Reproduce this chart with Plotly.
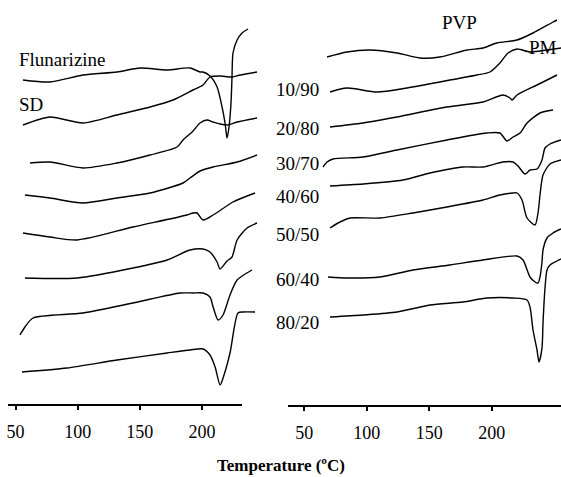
import plotly.graph_objects as go

W, H = 561, 477
FONT = "Liberation Serif"

# ---------------- Left panel (Flunarizine + solid dispersions) ----------------
flun_T = [56.0, 77.7, 104.3, 131.6, 150.1, 171.9, 190.3, 198.4, 200.8, 206.4, 212.1,
          216.1, 218.5, 220.1, 221.7, 223.3, 224.1, 224.9, 228.2, 232.2, 237.0]
flun_h = [325, 323, 330, 333, 337, 335, 337, 333, 333, 329, 318,
          298, 282, 267, 278, 302, 328, 352, 365, 372, 376]

sd1_T = [56.0, 77.7, 104.3, 131.6, 158.2, 176.7, 192.8, 200.8, 206.4, 214.5, 224.1, 230.6, 244.2]
sd1_h = [280, 288, 282, 290, 298, 305, 315, 320, 328, 329, 328, 330, 333]

sd2_T = [61.7, 77.7, 104.3, 131.6, 158.2, 179.9, 184.7, 192.8, 198.4, 204.0, 208.9, 214.5, 220.1, 228.2, 244.2]
sd2_h = [242, 243, 237, 242, 250, 258, 265, 274, 282, 285, 283, 281, 280, 283, 287]

sd3_T = [57.6, 77.7, 104.3, 131.6, 158.2, 184.7, 190.3, 198.4, 208.9, 228.2, 244.2]
sd3_h = [210, 207, 202, 207, 212, 222, 227, 234, 238, 243, 250]

sd4_T = [56.0, 77.7, 99.5, 144.5, 187.9, 192.8, 196.0, 200.8, 208.9, 224.9, 242.6]
sd4_h = [172, 168, 165, 178, 190, 192, 192, 185, 190, 203, 212]

sd5_T = [57.6, 99.5, 144.5, 171.9, 190.3, 200.8, 206.4, 212.1, 214.5, 220.1, 224.1, 228.2, 236.2, 244.2]
sd5_h = [127, 127, 137, 145, 155, 156, 153, 143, 136, 144, 148, 165, 177, 182]

sd6_T = [53.6, 57.6, 64.1, 104.3, 144.5, 182.3, 192.8, 200.8, 206.4, 208.9, 212.9, 216.9, 222.5, 228.2, 240.2]
sd6_h = [70, 78, 87, 92, 102, 112, 112, 112, 108, 98, 85, 90, 110, 125, 135]

sd7_T = [55.2, 91.4, 131.6, 171.9, 190.3, 200.8, 206.4, 210.5, 214.5, 216.9, 222.5, 228.9, 233.0, 242.6]
sd7_h = [33, 37, 45, 52, 55, 56, 50, 38, 20, 27, 52, 92, 93, 93]

# ---------------- Right panel (PVP + physical mixtures) ----------------
pvp_T = [68.2, 84.2, 102.6, 124.2, 142.6, 158.6, 180.2, 193.0, 204.2, 220.3, 233.1, 249.1, 252.3]
pvp_h = [348, 353, 355, 352, 347, 348, 355, 357, 362, 365, 372, 383, 385]

pm1090_T = [70.6, 84.2, 108.2, 132.2, 158.6, 166.6, 188.2, 198.6, 206.6, 213.1, 220.3, 230.7, 244.3, 255.5]
pm1090_h = [313, 317, 313, 317, 323, 325, 330, 333, 342, 352, 356, 353, 355, 357]

pm2080_T = [70.6, 97.0, 124.2, 164.2, 193.0, 209.0, 214.7, 216.3, 220.3, 236.3, 252.3]
pm2080_h = [278, 282, 288, 298, 303, 310, 307, 305, 310, 320, 330]

pm3070_T = [65.0, 68.2, 73.0, 97.0, 124.2, 164.2, 196.2, 206.6, 212.3, 217.1, 222.7, 228.3, 238.7, 249.1]
pm3070_h = [238, 243, 246, 248, 255, 265, 272, 272, 264, 268, 272, 282, 292, 295]

pm4060_T = [70.6, 97.0, 129.0, 150.6, 177.0, 193.0, 209.0, 217.1, 221.1, 226.7, 230.7, 236.3, 240.3, 242.7, 246.7, 255.5]
pm4060_h = [219, 221, 225, 232, 238, 238, 243, 243, 239, 231, 235, 236, 245, 257, 261, 265]

pm5050_T = [70.6, 78.6, 86.6, 110.6, 137.0, 164.2, 193.0, 206.6, 217.1, 220.3, 224.3, 228.3,
            234.7, 237.1, 238.7, 241.1, 246.7, 255.5]
pm5050_h = [177, 183, 187, 187, 192, 198, 205, 210, 212, 212, 205, 187,
            180, 192, 210, 230, 241, 245]

pm6040_T = [69.0, 84.2, 110.6, 137.0, 166.6, 193.0, 220.3, 225.1, 230.7, 234.7, 237.1, 238.7,
            240.3, 241.1, 244.3, 249.1, 255.5]
pm6040_h = [128, 127, 128, 135, 140, 145, 149, 145, 128, 123, 122, 128,
            143, 155, 167, 172, 176]

pm8020_T = [70.6, 97.0, 124.2, 150.6, 177.0, 196.2, 217.1, 228.3, 230.7, 233.1, 236.3, 237.9,
            240.3, 241.1, 242.7, 244.3, 246.7, 252.3, 255.5]
pm8020_h = [88, 90, 93, 100, 103, 107, 107, 105, 98, 75, 55, 43,
            57, 82, 117, 135, 140, 144, 146]

tick_vals = [50, 100, 150, 200]
ratio_labels = ["10/90", "20/80", "30/70", "40/60", "50/50", "60/40", "80/20"]

left_series = [(flun_T, flun_h), (sd1_T, sd1_h), (sd2_T, sd2_h), (sd3_T, sd3_h),
               (sd4_T, sd4_h), (sd5_T, sd5_h), (sd6_T, sd6_h), (sd7_T, sd7_h)]
right_series = [(pvp_T, pvp_h), (pm1090_T, pm1090_h), (pm2080_T, pm2080_h), (pm3070_T, pm3070_h),
                (pm4060_T, pm4060_h), (pm5050_T, pm5050_h), (pm6040_T, pm6040_h), (pm8020_T, pm8020_h)]

fig = go.Figure()
line = dict(color="black", width=1.4, shape="spline", smoothing=0.7)
for T, h in left_series:
    fig.add_trace(go.Scatter(x=T, y=h, mode="lines", line=line, xaxis="x", yaxis="y",
                             showlegend=False, hoverinfo="skip"))
for T, h in right_series:
    fig.add_trace(go.Scatter(x=T, y=h, mode="lines", line=line, xaxis="x2", yaxis="y",
                             showlegend=False, hoverinfo="skip"))


def px(x):
    return x / W


def py(y):
    return 1 - y / H


axis_common = dict(
    tickvals=tick_vals, ticks="outside", ticklen=4, tickwidth=2, tickcolor="black",
    showgrid=False, zeroline=False, ticklabelstandoff=6,
    tickfont=dict(family=FONT, size=18, color="black"),
)

fig.update_layout(
    width=W, height=H, margin=dict(l=0, r=0, t=0, b=0),
    paper_bgcolor="white", plot_bgcolor="white",
    xaxis=dict(domain=[px(8), px(258)], range=[43.97, 245.0], anchor="y",
               showline=False, **axis_common),
    xaxis2=dict(domain=[px(288), 1.0], range=[36.95, 255.5], anchor="y",
                showline=True, linewidth=2, linecolor="black", **axis_common),
    yaxis=dict(domain=[1 - 405 / H, 1.0], range=[0, 405], visible=False),
    shapes=[dict(type="line", xref="paper", yref="paper", x0=px(8), x1=px(242),
                 y0=1 - 405 / H, y1=1 - 405 / H, line=dict(color="black", width=2))],
)

lab_font = dict(family=FONT, size=19, color="black")
annots = [
    dict(text="Flunarizine", x=px(17), y=py(60), xanchor="left"),
    dict(text="SD", x=px(17), y=py(104), xanchor="left"),
    dict(text="PVP", x=px(459), y=py(22), xanchor="center"),
    dict(text="PM", x=px(527), y=py(48), xanchor="left"),
]
ratio_y = [90, 128, 163, 196, 234, 279, 322]
for lab, yy in zip(ratio_labels, ratio_y):
    annots.append(dict(text=lab, x=px(321), y=py(yy), xanchor="right"))
for a in annots:
    fig.add_annotation(xref="paper", yref="paper", yanchor="middle", showarrow=False,
                       font=lab_font, **a)

fig.add_annotation(text="<b>Temperature (ºC)</b>", xref="paper", yref="paper",
                   x=px(281), y=py(465), xanchor="center", yanchor="middle", showarrow=False,
                   font=dict(family=FONT, size=17, color="black"))

fig.write_html("out.html")
